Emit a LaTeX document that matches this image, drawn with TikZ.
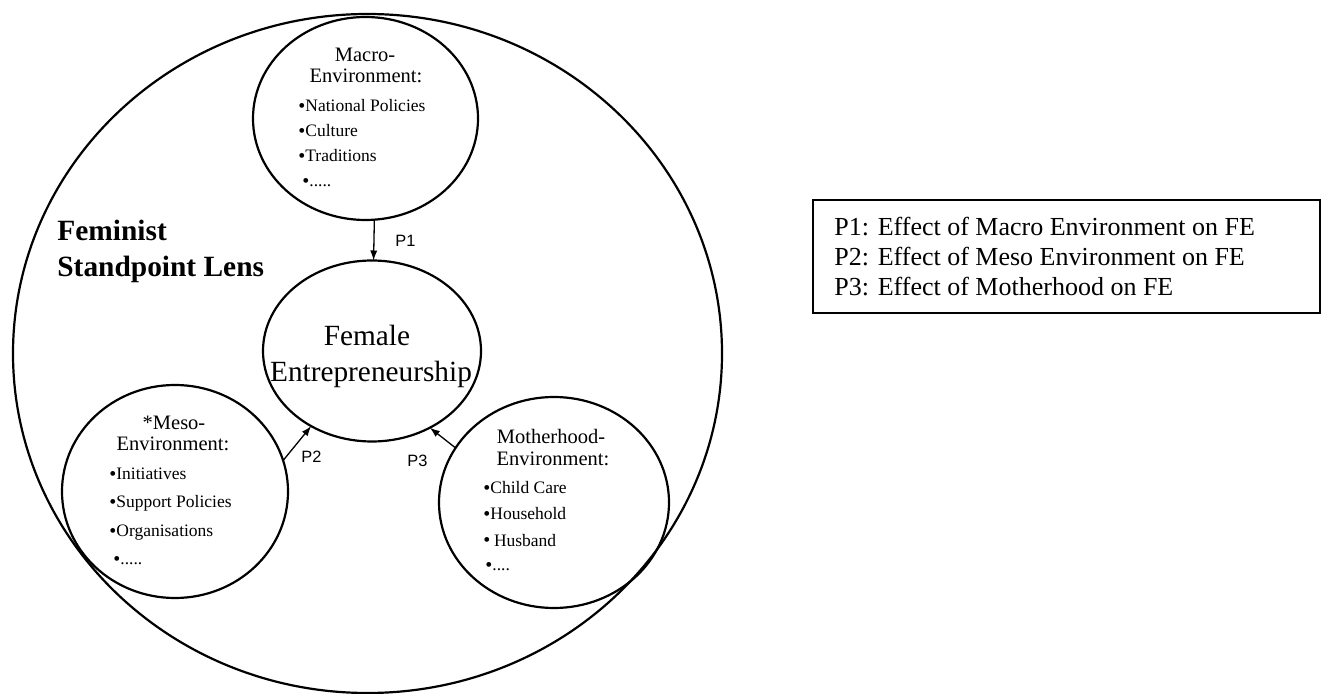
\documentclass[tikz,border=0pt]{standalone}
\usepackage{fontspec}
\setmainfont{Liberation Serif}
\newfontfamily\arialfont{Liberation Sans}
\usetikzlibrary{shapes.geometric,arrows.meta}
\newcommand\bu{{\fontsize{10}{10}\selectfont\raisebox{-0.4pt}{•}}}
\begin{document}
\begin{tikzpicture}[x=0.5pt,y=-0.5pt,
  ring/.style={draw,ellipse,line width=1.1pt,inner sep=0pt,outer sep=0pt},
  head/.style={inner sep=0pt,anchor=base,font=\fontsize{10.25}{12}\selectfont},
  item/.style={inner sep=0pt,anchor=base west,font=\fontsize{8.75}{10}\selectfont},
  big/.style={inner sep=0pt,anchor=base,font=\fontsize{14.65}{17}\selectfont},
  lens/.style={inner sep=0pt,anchor=base west,font=\bfseries\fontsize{14.7}{17}\selectfont},
  plab/.style={inner sep=0pt,anchor=base west,font=\arialfont\fontsize{8.2}{10}\selectfont},
  leg/.style={inner sep=0pt,anchor=base west,font=\fontsize{13}{15}\selectfont},
  arr/.style={-{Latex[length=5pt,width=3.6pt]},line width=0.65pt}
]
\useasboundingbox (0,0) rectangle (1322,694);
% circles
\node[ring,minimum width=354.5pt,minimum height=339.5pt] (outer) at (367.5,353.5) {};
\node[ring,minimum width=112.5pt,minimum height=101.5pt] (macro) at (365.5,118.5) {};
\node[ring,minimum width=109pt,minimum height=90.5pt] (fe) at (372,351) {};
\node[ring,minimum width=113pt,minimum height=106.5pt] (meso) at (175,491.5) {};
\node[ring,minimum width=115pt,minimum height=105.5pt] (mother) at (554,502.5) {};
% macro text
\node[head] (ma1) at (365,62) {Macro-};
\node[head] (ma2) at (366,83) {Environment:};
\node[item] (mai1) at (298,112) {\bu National Policies};
\node[item] (mai2) at (298,137) {\bu Culture};
\node[item] (mai3) at (298,162) {\bu Traditions};
\node[item] (mai4) at (302,187) {\bu .....};
% meso text
\node[head] (me1) at (174,430) {*Meso-};
\node[head] (me2) at (173,451) {Environment:};
\node[item] (mei1) at (109,480) {\bu Initiatives};
\node[item] (mei2) at (109,508) {\bu Support Policies};
\node[item] (mei3) at (109,537) {\bu Organisations};
\node[item] (mei4) at (113,565) {\bu .....};
% motherhood text
\node[head] (mo1) at (551,444) {Motherhood-};
\node[head] (mo2) at (553,466) {Environment:};
\node[item] (moi1) at (483,494) {\bu Child Care};
\node[item] (moi2) at (483,520) {\bu Household};
\node[item] (moi3) at (483,546) {\bu\hspace{1.8pt}Husband};
\node[item] (moi4) at (485,571) {\bu ....};
% female entrepreneurship
\node[big] (fe1) at (367,346) {Female};
\node[big] (fe2) at (371,382) {Entrepreneurship};
% lens
\node[lens] (l1) at (57,241) {Feminist};
\node[lens] (l2) at (57,277) {Standpoint Lens};
% arrows
\draw[arr] (macro.-85.8) -- (fe.89.4);
\draw[arr] (meso.16.4) -- (fe.231.8);
\draw[arr] (mother.151.6) -- (fe.-53.5);
\node[plab] (p1) at (395,247) {P1};
\node[plab] (p2) at (301,463) {P2};
\node[plab] (p3) at (407,467) {P3};
% legend
\node[draw,line width=1pt,inner sep=0pt,minimum width=253.5pt,minimum height=56.5pt] (legend) at (1066.5,256.5) {};
\node[leg] (lg1) at (834,236) {P1: Effect of Macro Environment on FE};
\node[leg] (lg2) at (834,266) {P2: Effect of Meso Environment on FE};
\node[leg] (lg3) at (834,296) {P3: Effect of Motherhood on FE};
\end{tikzpicture}
\end{document}
